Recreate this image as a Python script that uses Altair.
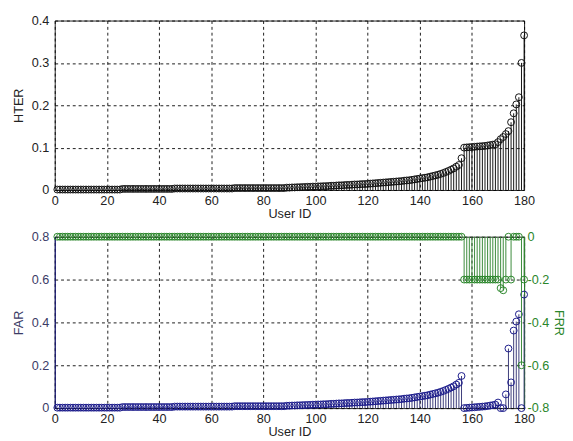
import altair as alt
import pandas as pd

# ---------------- data ----------------
user_id = list(range(1, 181))

hter = [
    0.001, 0.001, 0.001, 0.001, 0.001, 0.001, 0.001, 0.001, 0.001, 0.001,
    0.001, 0.001, 0.001, 0.001, 0.001, 0.001, 0.001, 0.001, 0.001, 0.001,
    0.001, 0.001, 0.001, 0.001, 0.001, 0.0025, 0.0025, 0.0025, 0.0025, 0.0025,
    0.0025, 0.0025, 0.0025, 0.0025, 0.0025, 0.0025, 0.0025, 0.0025, 0.0025, 0.0025,
    0.0025, 0.0025, 0.0025, 0.0025, 0.0025, 0.0035, 0.0035, 0.0035, 0.0035, 0.0035,
    0.0035, 0.0035, 0.0035, 0.0035, 0.0035, 0.0035, 0.0035, 0.0035, 0.0035, 0.0035,
    0.0035, 0.0035, 0.0035, 0.0035, 0.0035, 0.0035, 0.0035, 0.0035, 0.0045, 0.0045,
    0.0045, 0.0045, 0.0045, 0.0045, 0.0045, 0.0045, 0.0045, 0.0045, 0.0045, 0.0045,
    0.0045, 0.0045, 0.0045, 0.0045, 0.0045, 0.0045, 0.0045, 0.0045, 0.0055, 0.0055,
    0.006, 0.006, 0.0065, 0.0065, 0.007, 0.007, 0.0075, 0.0075, 0.008, 0.008,
    0.0085, 0.0085, 0.009, 0.009, 0.0095, 0.010, 0.010, 0.0105, 0.011, 0.011,
    0.0115, 0.012, 0.012, 0.0125, 0.013, 0.013, 0.0135, 0.014, 0.014, 0.0145,
    0.015, 0.0155, 0.016, 0.0165, 0.017, 0.0175, 0.018, 0.0185, 0.019, 0.0195,
    0.020, 0.0205, 0.021, 0.022, 0.0225, 0.023, 0.024, 0.025, 0.026, 0.027,
    0.028, 0.029, 0.030, 0.0315, 0.033, 0.0345, 0.036, 0.038, 0.040, 0.0425,
    0.045, 0.048, 0.051, 0.055, 0.059, 0.075, 0.100, 0.1005, 0.101, 0.1015,
    0.102, 0.1025, 0.103, 0.1035, 0.104, 0.105, 0.106, 0.107, 0.108, 0.113,
    0.120, 0.125, 0.132, 0.139, 0.160, 0.181, 0.202, 0.219, 0.300, 0.365,
]

far = [
    0.002, 0.002, 0.002, 0.002, 0.002, 0.002, 0.002, 0.002, 0.002, 0.002,
    0.002, 0.002, 0.002, 0.002, 0.002, 0.002, 0.002, 0.002, 0.002, 0.002,
    0.002, 0.002, 0.002, 0.002, 0.002, 0.005, 0.005, 0.005, 0.005, 0.005,
    0.005, 0.005, 0.005, 0.005, 0.005, 0.005, 0.005, 0.005, 0.005, 0.005,
    0.005, 0.005, 0.005, 0.005, 0.005, 0.007, 0.007, 0.007, 0.007, 0.007,
    0.007, 0.007, 0.007, 0.007, 0.007, 0.007, 0.007, 0.007, 0.007, 0.007,
    0.007, 0.007, 0.007, 0.007, 0.007, 0.007, 0.007, 0.007, 0.009, 0.009,
    0.009, 0.009, 0.009, 0.009, 0.009, 0.009, 0.009, 0.009, 0.009, 0.009,
    0.009, 0.009, 0.009, 0.009, 0.009, 0.009, 0.009, 0.009, 0.011, 0.011,
    0.012, 0.012, 0.013, 0.013, 0.014, 0.014, 0.015, 0.015, 0.016, 0.016,
    0.017, 0.017, 0.018, 0.018, 0.019, 0.020, 0.020, 0.021, 0.022, 0.022,
    0.023, 0.024, 0.024, 0.025, 0.026, 0.026, 0.027, 0.028, 0.028, 0.029,
    0.030, 0.031, 0.032, 0.033, 0.034, 0.035, 0.036, 0.037, 0.038, 0.039,
    0.040, 0.041, 0.042, 0.044, 0.045, 0.046, 0.048, 0.050, 0.052, 0.054,
    0.056, 0.058, 0.060, 0.063, 0.066, 0.069, 0.072, 0.076, 0.080, 0.085,
    0.090, 0.096, 0.102, 0.110, 0.118, 0.150, 0.000, 0.001, 0.002, 0.003,
    0.004, 0.005, 0.006, 0.007, 0.008, 0.010, 0.012, 0.014, 0.016, 0.026,
    0.000, 0.000, 0.064, 0.278, 0.120, 0.362, 0.404, 0.438, 0.000, 0.530,
]

frr = [
    0, 0, 0, 0, 0, 0, 0, 0, 0, 0,
    0, 0, 0, 0, 0, 0, 0, 0, 0, 0,
    0, 0, 0, 0, 0, 0, 0, 0, 0, 0,
    0, 0, 0, 0, 0, 0, 0, 0, 0, 0,
    0, 0, 0, 0, 0, 0, 0, 0, 0, 0,
    0, 0, 0, 0, 0, 0, 0, 0, 0, 0,
    0, 0, 0, 0, 0, 0, 0, 0, 0, 0,
    0, 0, 0, 0, 0, 0, 0, 0, 0, 0,
    0, 0, 0, 0, 0, 0, 0, 0, 0, 0,
    0, 0, 0, 0, 0, 0, 0, 0, 0, 0,
    0, 0, 0, 0, 0, 0, 0, 0, 0, 0,
    0, 0, 0, 0, 0, 0, 0, 0, 0, 0,
    0, 0, 0, 0, 0, 0, 0, 0, 0, 0,
    0, 0, 0, 0, 0, 0, 0, 0, 0, 0,
    0, 0, 0, 0, 0, 0, 0, 0, 0, 0,
    0, 0, 0, 0, 0, 0, 0.2, 0.2, 0.2, 0.2,
    0.2, 0.2, 0.2, 0.2, 0.2, 0.2, 0.2, 0.2, 0.2, 0.2,
    0.24, 0.25, 0.2, 0, 0.2, 0, 0, 0, 0.6, 0.2,
]

x_ticks = [0, 20, 40, 60, 80, 100, 120, 140, 160, 180]
hter_ticks = [0, 0.1, 0.2, 0.3, 0.4]
far_ticks = [0, 0.2, 0.4, 0.6, 0.8]
frr_ticks = [-0.8, -0.6, -0.4, -0.2, 0]

df = pd.DataFrame({"id": user_id, "hter": hter, "far": far, "frr": frr})

FONT = "Liberation Sans"
FS = 13
BLUE = "#1a1a8a"
BLUE_STEM = "#3a3a78"
GREEN = "#2a862a"
GREEN_STEM = "#3a8a3a"
DARK = "#222222"
LEFT_BOTTOM = "#3b3b66"
MSIZE = 50

W, H1, H2 = 482, 174, 176

lab_expr = "datum.value == 0 ? '0' : format(datum.value, '.1f')"
neg_expr = "datum.value == 0 ? '0' : '-' + format(-datum.value, '.1f')"

xscale = alt.Scale(domain=[0, 180], nice=False, zero=False)


def x_axis():
    return alt.Axis(values=x_ticks, title="User ID", grid=True, gridDash=[3, 3],
                    gridColor="#000000", gridOpacity=0.9, ticks=False, tickSize=0,
                    domain=False, labelPadding=5, titlePadding=0,
                    labelColor=DARK, titleColor=DARK, labelFlush=False)


base = alt.Chart(df)

# ---------------- top panel: HTER ----------------
top_y = alt.Y("hter:Q", scale=alt.Scale(domain=[0, 0.4], nice=False),
              axis=alt.Axis(values=hter_ticks, labelExpr=lab_expr, title="HTER",
                            grid=True, gridDash=[3, 3], gridColor="#000000",
                            gridOpacity=0.9, ticks=False, tickSize=0, domain=False,
                            labelPadding=6, titlePadding=6, labelColor=DARK,
                            titleColor=DARK))

top_stems = base.mark_rule(color="#111111", strokeWidth=1).encode(
    x=alt.X("id:Q", scale=xscale, axis=x_axis()),
    y=top_y,
    y2=alt.datum(0),
)
top_pts = base.mark_point(shape="circle", filled=False, size=MSIZE, color="#111111",
                          strokeWidth=1, opacity=1).encode(
    x=alt.X("id:Q", scale=xscale),
    y=alt.Y("hter:Q"),
)
top = alt.layer(top_stems, top_pts).properties(width=W, height=H1)

# ---------------- bottom panel: FAR (left) & FRR (right) ----------------
far_y = alt.Y("far:Q", scale=alt.Scale(domain=[0, 0.8], nice=False),
              axis=alt.Axis(values=far_ticks, labelExpr=lab_expr, title="FAR",
                            grid=True, gridDash=[3, 3], gridColor="#000000",
                            gridOpacity=0.9, ticks=False, tickSize=0, domain=True,
                            domainColor=BLUE, labelPadding=6, titlePadding=6,
                            labelColor=LEFT_BOTTOM, titleColor=LEFT_BOTTOM,
                            orient="left"))

far_stems = base.mark_rule(color=BLUE_STEM, strokeWidth=1).encode(
    x=alt.X("id:Q", scale=xscale, axis=x_axis()),
    y=far_y,
    y2=alt.datum(0),
)
far_pts = base.mark_point(shape="circle", filled=False, size=MSIZE, color=BLUE,
                          strokeWidth=1, opacity=1).encode(
    x=alt.X("id:Q", scale=xscale),
    y=alt.Y("far:Q"),
)
far_layer = alt.layer(far_stems, far_pts)

frr_y = alt.Y("frr_neg:Q", scale=alt.Scale(domain=[-0.8, 0], nice=False),
              axis=alt.Axis(values=frr_ticks, labelExpr=neg_expr, title="FRR",
                            grid=False, ticks=False, tickSize=0, domain=True,
                            domainColor=GREEN, labelPadding=3, titlePadding=3,
                            labelColor=GREEN, titleColor=GREEN, orient="right"))

frr_base = base.transform_calculate(frr_neg="-datum.frr")
frr_stems = frr_base.mark_rule(color=GREEN_STEM, strokeWidth=1).encode(
    x=alt.X("id:Q", scale=xscale),
    y=frr_y,
    y2=alt.datum(0),
)
frr_pts = frr_base.mark_point(shape="circle", filled=False, size=MSIZE, color=GREEN,
                              strokeWidth=1, opacity=1).encode(
    x=alt.X("id:Q", scale=xscale),
    y=alt.Y("frr_neg:Q"),
)
frr_layer = alt.layer(frr_stems, frr_pts)

bottom = alt.layer(far_layer, frr_layer).resolve_scale(y="independent").properties(
    width=W, height=H2)

chart = alt.vconcat(top, bottom, spacing=9).properties(
    padding={"left": 4, "top": 0, "right": 0, "bottom": 0},
    background="white",
).configure_view(stroke="#222222", strokeWidth=1).configure_axis(
    labelFont=FONT, titleFont=FONT, labelFontSize=FS, titleFontSize=FS,
    titleFontWeight="normal",
)

chart.save("out.html", embed_options={"renderer": "svg", "actions": False})
